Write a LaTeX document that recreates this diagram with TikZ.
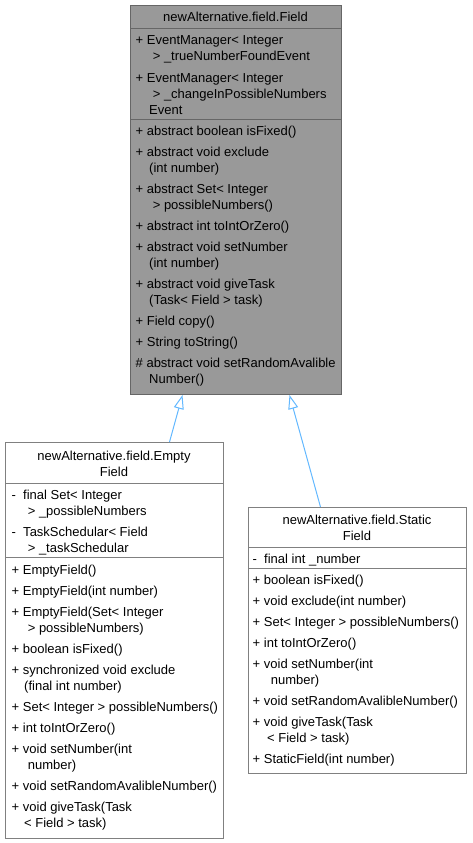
\documentclass[tikz,border=0pt]{standalone}
\usepackage{fontspec}
\setmainfont{Liberation Sans}
\usepackage{tikz}
\usetikzlibrary{arrows.meta, calc}
\definecolor{edgeblue}{HTML}{63B8FF}
\definecolor{curfill}{HTML}{999999}
\definecolor{curline}{HTML}{666666}
\definecolor{clsline}{HTML}{808080}

\begin{document}
\begin{tikzpicture}
  [
    x=1pt, y=-1pt,
    Cur/.style={rectangle, draw=curline, fill=curfill, line width=1pt, inner sep=0pt, anchor=north west},
    Cls/.style={rectangle, draw=clsline, fill=white, line width=1pt, inner sep=0pt, anchor=north west},
    CurSep/.style={draw=curline, line width=1pt},
    ClsSep/.style={draw=clsline, line width=1pt},
    Ln/.style={anchor=base west, inner sep=0pt, font=\fontsize{13}{15}\selectfont},
    Title/.style={Ln, anchor=base},
    Inherit/.style={draw=edgeblue, line width=1pt, -{Triangle[open, length=14pt, width=10pt, line width=1pt]}}
  ]
  \useasboundingbox (0,0) rectangle (472,843);
  % Boxes
  \node[Cur, minimum width=211pt, minimum height=389pt] (field) at (130,5) {};
  \node[Cls, minimum width=218pt, minimum height=396pt] (empty) at (5,442) {};
  \node[Cls, minimum width=218pt, minimum height=266pt] (static) at (248,507) {};
  % Separators
  \draw[CurSep] (130,29) -- (341,29);
  \draw[CurSep] (130,119) -- (341,119);
  \draw[ClsSep] (5,483) -- (223,483);
  \draw[ClsSep] (5,557) -- (223,557);
  \draw[ClsSep] (248,547) -- (466,547);
  \draw[ClsSep] (248,568) -- (466,568);
  % Field
  \node[Title] (f0) at (235.5,22) {newAlternative.field.Field};
  \node[Ln] (f1) at (135.5,45) {+ EventManager< Integer};
  \node[Ln] (f2) at (149,61) {\ > \_trueNumberFoundEvent};
  \node[Ln] (f3) at (135.5,82) {+ EventManager< Integer};
  \node[Ln] (f4) at (149,98) {\ > \_changeInPossibleNumbers};
  \node[Ln] (f5) at (149,114) {Event};
  \node[Ln] (f6) at (135.5,135) {+ abstract boolean isFixed()};
  \node[Ln] (f7) at (135.5,156) {+ abstract void exclude};
  \node[Ln] (f8) at (149,172) {(int number)};
  \node[Ln] (f9) at (135.5,193) {+ abstract Set< Integer};
  \node[Ln] (f10) at (149,209) {\ > possibleNumbers()};
  \node[Ln] (f11) at (135.5,230) {+ abstract int toIntOrZero()};
  \node[Ln] (f12) at (135.5,251) {+ abstract void setNumber};
  \node[Ln] (f13) at (149,267) {(int number)};
  \node[Ln] (f14) at (135.5,288) {+ abstract void giveTask};
  \node[Ln] (f15) at (149,304) {(Task< Field > task)};
  \node[Ln] (f16) at (135.5,325) {+ Field copy()};
  \node[Ln] (f17) at (135.5,346) {+ String toString()};
  \node[Ln] (f18) at (135.5,367) {\# abstract void setRandomAvalible};
  \node[Ln] (f19) at (149,383) {Number()};
  % EmptyField
  \node[Title] (e0) at (114,460) {newAlternative.field.Empty};
  \node[Title] (e1) at (114,476) {Field};
  \node[Ln] (e2) at (11.5,499) {-~~final Set< Integer};
  \node[Ln] (e3) at (24,515) {\ > \_possibleNumbers};
  \node[Ln] (e4) at (11.5,536) {-~~TaskSchedular< Field};
  \node[Ln] (e5) at (24,552) {\ > \_taskSchedular};
  \node[Ln] (e6) at (11.5,574) {+ EmptyField()};
  \node[Ln] (e7) at (11.5,595) {+ EmptyField(int number)};
  \node[Ln] (e8) at (11.5,616) {+ EmptyField(Set< Integer};
  \node[Ln] (e9) at (24,632) {\ > possibleNumbers)};
  \node[Ln] (e10) at (11.5,653) {+ boolean isFixed()};
  \node[Ln] (e11) at (11.5,674) {+ synchronized void exclude};
  \node[Ln] (e12) at (24,690) {(final int number)};
  \node[Ln] (e13) at (11.5,711) {+ Set< Integer > possibleNumbers()};
  \node[Ln] (e14) at (11.5,732) {+ int toIntOrZero()};
  \node[Ln] (e15) at (11.5,753) {+ void setNumber(int};
  \node[Ln] (e16) at (24,769) {\ number)};
  \node[Ln] (e17) at (11.5,790) {+ void setRandomAvalibleNumber()};
  \node[Ln] (e18) at (11.5,811) {+ void giveTask(Task};
  \node[Ln] (e19) at (24,827) {< Field > task)};
  % StaticField
  \node[Title] (s0) at (357,524) {newAlternative.field.Static};
  \node[Title] (s1) at (357,540) {Field};
  \node[Ln] (s2) at (252.5,563) {-~~final int \_number};
  \node[Ln] (s3) at (252.5,584) {+ boolean isFixed()};
  \node[Ln] (s4) at (252.5,605) {+ void exclude(int number)};
  \node[Ln] (s5) at (252.5,626) {+ Set< Integer > possibleNumbers()};
  \node[Ln] (s6) at (252.5,647) {+ int toIntOrZero()};
  \node[Ln] (s7) at (252.5,668) {+ void setNumber(int};
  \node[Ln] (s8) at (267,684) {\ number)};
  \node[Ln] (s9) at (252.5,705) {+ void setRandomAvalibleNumber()};
  \node[Ln] (s10) at (252.5,726) {+ void giveTask(Task};
  \node[Ln] (s11) at (267,742) {< Field > task)};
  \node[Ln] (s12) at (252.5,763) {+ StaticField(int number)};
  % Lines
  \draw[Inherit] ([xshift=55pt]empty.north) -- ([xshift=-53.5pt]field.south);
  \draw[Inherit] ([xshift=-37pt]static.north) -- ([xshift=53.5pt]field.south);
\end{tikzpicture}
\end{document}
